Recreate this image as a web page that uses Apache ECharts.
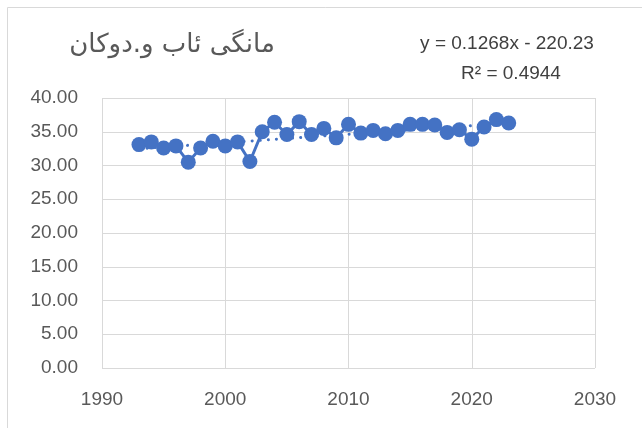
<!DOCTYPE html>
<html>
<head>
<meta charset="utf-8">
<script src="https://cdn.jsdelivr.net/npm/echarts@6/dist/echarts.min.js"></script>
<style>html,body{margin:0;padding:0;background:#fff}#c{width:642px;height:428px}</style>
</head>
<body>
<div id="c"></div>
<script>
const years = [1993,1994,1995,1996,1997,1998,1999,2000,2001,2002,2003,2004,2005,2006,2007,2008,2009,2010,2011,2012,2013,2014,2015,2016,2017,2018,2019,2020,2021,2022,2023];
const values = [33.1,33.5,32.6,32.9,30.5,32.6,33.6,32.9,33.5,30.6,35.0,36.4,34.6,36.5,34.6,35.5,34.1,36.1,34.8,35.2,34.7,35.2,36.1,36.1,36.0,34.9,35.3,33.9,35.7,36.8,36.3];
const trendSlope = 0.1268;
const trendIntercept = -220.23;
const titleText = 'مانگی ئاب و.دوکان';
const eqText = 'y = 0.1268x - 220.23';
const r2Text = 'R² = 0.4944';

const dataPts = years.map((y, i) => [y, values[i]]);
const trendPts = [years[0], years[years.length - 1]].map(x => [x, trendSlope * x + trendIntercept]);

const chart = echarts.init(document.getElementById('c'));
const lab = {color: '#595959', fontSize: 19, fontFamily: 'Liberation Sans'};
chart.setOption({
  animation: false,
  grid: {left: 102, right: 47, top: 98, bottom: 60},
  xAxis: {
    type: 'value', min: 1990, max: 2030, interval: 10,
    axisLine: {show: false}, axisTick: {show: false},
    splitLine: {lineStyle: {color: '#d9d9d9', width: 1}},
    axisLabel: Object.assign({margin: 22, formatter: v => String(v)}, lab)
  },
  yAxis: {
    type: 'value', min: 0, max: 40, interval: 5,
    axisLine: {show: false}, axisTick: {show: false},
    splitLine: {lineStyle: {color: '#d9d9d9', width: 1}},
    axisLabel: Object.assign({margin: 24, formatter: v => v.toFixed(2)}, lab)
  },
  graphic: [
    {type: 'rect', shape: {x: 7.5, y: 7.5, width: 700, height: 500}, style: {fill: 'none', stroke: '#d9d9d9', lineWidth: 1}, z: -10},
    {type: 'text', x: 172, y: 45, style: {text: titleText, fontSize: 26, fill: '#595959', fontFamily: 'DejaVu Sans', textAlign: 'center', textVerticalAlign: 'middle'}},
    {type: 'text', x: 507, y: 44, style: {text: eqText, fontSize: 19, fill: '#404040', fontFamily: 'Liberation Sans', textAlign: 'center', textVerticalAlign: 'middle'}},
    {type: 'text', x: 511, y: 74, style: {text: r2Text, fontSize: 19, fill: '#404040', fontFamily: 'Liberation Sans', textAlign: 'center', textVerticalAlign: 'middle'}}
  ],
  series: [
    {
      type: 'line', data: trendPts, symbol: 'none', z: 1,
      lineStyle: {color: '#4472C4', width: 3, type: [0.1, 8], cap: 'round'}
    },
    {
      type: 'line', data: dataPts, symbol: 'circle', symbolSize: 15, z: 2,
      itemStyle: {color: '#4472C4'},
      lineStyle: {color: '#4472C4', width: 3}
    }
  ]
});
</script>
</body>
</html>
